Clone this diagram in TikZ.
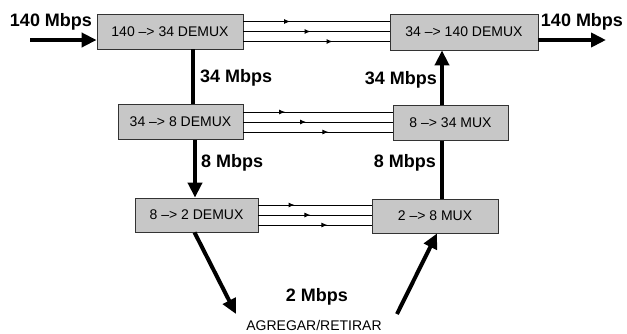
\documentclass[tikz,border=0pt]{standalone}
\usepackage{fontspec}
\setmainfont{Liberation Sans}
\usepackage{tikz}
\usetikzlibrary{positioning, arrows.meta, calc, decorations.markings}

\tikzset{
    muxbox/.style={draw=black!80, line width=0.8pt, fill=black!22, inner sep=0pt,
        font=\fontsize{14}{16}\selectfont},
    ratelabel/.style={font=\fontsize{18}{20}\selectfont\bfseries, inner sep=0pt},
    thickline/.style={line width=4pt},
    thickarrow/.style={line width=4pt, -{Triangle[length=15pt,width=14pt]}},
    tributary/.style={line width=1pt, postaction={decorate},
        decoration={markings, mark=at position #1 with {\arrow{Latex[length=6pt,width=5pt]}}}}
}

\begin{document}
\begin{tikzpicture}[x=1pt, y=-1pt]
    \useasboundingbox (0,0) rectangle (627,333);
    % Demultiplexers (left column)
    \node[muxbox, minimum width=146pt, minimum height=35pt] (b1) at (170,31.5) {140 --> 34 DEMUX};
    \node[muxbox, minimum width=125pt, minimum height=35pt] (b3) at (180.5,122) {34 --> 8 DEMUX};
    \node[muxbox, minimum width=123pt, minimum height=34pt] (b5) at (196.5,215) {8 --> 2 DEMUX};
    % Multiplexers (right column)
    \node[muxbox, minimum width=148pt, minimum height=36pt] (b2) at (464,32) {34 --> 140 DEMUX};
    \node[muxbox, minimum width=115pt, minimum height=35pt] (b4) at (450.5,123) {8 --> 34 MUX};
    \node[muxbox, minimum width=126pt, minimum height=34pt] (b6) at (435,216) {2 --> 8 MUX};

    % Tributaries passing through
    \foreach \dy/\pos in {10/0.32, 0/0.46, -10/0.61} {
        \draw[tributary=\pos] ([yshift=\dy pt]b1.east) -- ([yshift=\dy pt]b1.east -| b2.west);
        \draw[tributary=\pos-0.04] ([yshift=\dy pt]b3.east) -- ([yshift=\dy pt]b3.east -| b4.west);
        \draw[tributary=\pos] ([yshift=\dy pt]b5.east) -- ([yshift=\dy pt]b5.east -| b6.west);
    }

    % Input and output
    \coordinate (in) at (30,40);
    \coordinate (out) at (606,40);
    \draw[thickarrow] (in) -- (in -| b1.west);
    \draw[thickarrow] (out -| b2.east) -- (out);
    \node[ratelabel] (lin) at (51,22) {140 Mbps};
    \node[ratelabel] (lout) at (582,22) {140 Mbps};

    % Left column links
    \draw[thickline] ([xshift=12pt]b3.north) -- ([xshift=12pt]b3.north |- b1.south);
    \draw[thickarrow] ([xshift=14.5pt]b3.south) -- ([xshift=14.5pt]b3.south |- b5.north);
    \node[ratelabel, anchor=west] (l34a) at (200,78) {34 Mbps};
    \node[ratelabel, anchor=west] (l8a) at (201,163) {8 Mbps};

    % Right column links
    \draw[thickarrow] ([xshift=-8.5pt]b4.north) -- ([xshift=-8.5pt]b4.north |- b2.south);
    \draw[thickline] ([xshift=7pt]b6.north) -- ([xshift=7pt]b6.north |- b4.south);
    \node[ratelabel, anchor=east] (l34b) at (437,80) {34 Mbps};
    \node[ratelabel, anchor=east] (l8b) at (436,163) {8 Mbps};

    % Drop and insert
    \coordinate (drop) at (236,314);
    \coordinate (add) at (397,314);
    \draw[thickarrow] ([xshift=-2pt]b5.south) -- (drop);
    \draw[thickarrow] (add) -- ([xshift=2pt]b6.south);
    \node[ratelabel] (l2) at (317,297) {2 Mbps};
    \node[font=\fontsize{14}{16}\selectfont, inner sep=0pt] (agr) at (314,325) {AGREGAR/RETIRAR};
\end{tikzpicture}
\end{document}
